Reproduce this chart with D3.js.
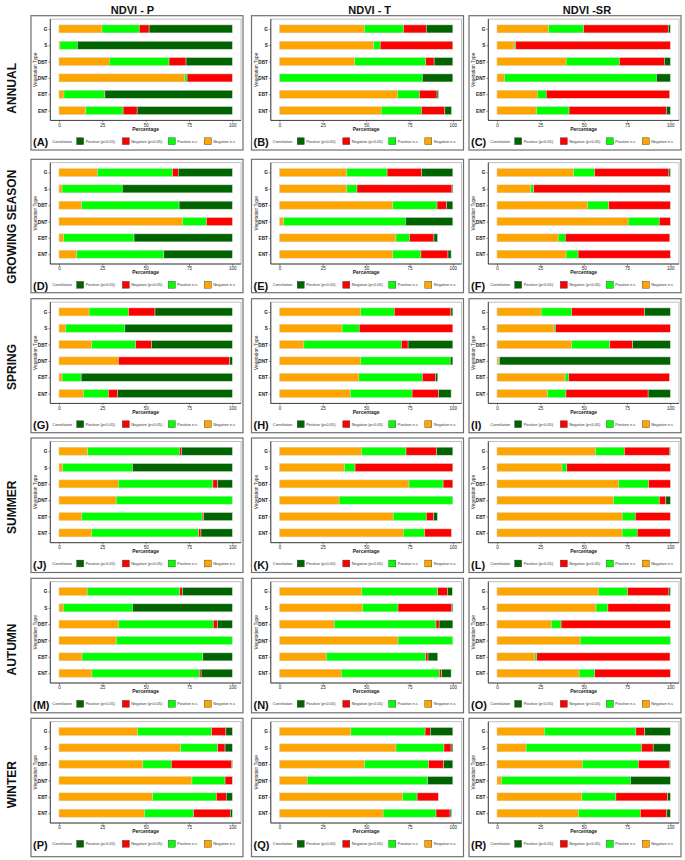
<!DOCTYPE html>
<html><head><meta charset="utf-8">
<script src="https://cdn.jsdelivr.net/npm/d3@7/dist/d3.min.js"></script>
<style>
body{margin:0;background:#fff}
svg{display:block;font-family:"Liberation Sans",Arial,sans-serif}
</style>
</head><body>
<svg id="chart" width="685" height="860"></svg>
<script>
// ---------- categories / labels ----------
const vegTypes = ["G", "S", "DBT", "DNT", "EBT", "ENT"];
const seasons = ["ANNUAL", "GROWING SEASON", "SPRING", "SUMMER", "AUTUMN", "WINTER"];
const indices = ["NDVI - P", "NDVI - T", "NDVI -SR"];
const panelLetters = ["A","B","C","D","E","F","G","H","I","J","K","L","M","N","O","P","Q","R"];
const xTicks = [0, 25, 50, 75, 100];
// stacking order (left to right)
const seriesKeys = ["negNS", "posNS", "negSig", "posSig"];
const seriesColors = {posSig: "#006400", negSig: "#ff0000", posNS: "#00ff00", negNS: "#ffa500"};
const legendKeys = ["posSig", "negSig", "posNS", "negNS"];
const legendLabels = ["Positive (p<0.05)", "Negative (p<0.05)", "Positive n.s", "Negative n.s"];

// ---------- values: rows = vegTypes, columns = [Negative n.s, Positive n.s, Negative p<0.05, Positive p<0.05] ----------
const annualP  = [[24.8,21.5,5.7,48.0],[0.6,10.0,0,89.4],[29.0,34.5,9.8,26.7],[72.5,1.4,26.1,0],[2.9,23.2,0.4,73.5],[15.5,21.5,8.1,54.9]];
const annualT  = [[49.0,22.6,13.1,15.3],[54.4,3.7,41.9,0],[43.4,41.0,4.8,10.8],[0,82.4,0,17.6],[68.1,12.6,10.2,0.8],[58.7,23.2,13.5,3.8]];
const annualSR = [[29.8,20.2,48.8,1.2],[9.9,0.8,89.3,0],[39.9,30.7,25.9,3.5],[4.3,87.7,0,8.0],[23.3,5.1,71.2,0],[22.8,18.8,56.1,2.3]];
const growP    = [[22.2,43.3,3.3,31.2],[1.8,34.7,0,63.5],[13.1,56.2,0,30.7],[71.3,13.8,14.9,0],[2.8,40.5,0,56.7],[10.3,50.2,0,39.5]];
const growT    = [[38.9,23.2,20.0,17.9],[38.9,5.8,54.8,0.5],[65.4,25.5,5.6,3.5],[2.5,70.2,0,27.3],[67.2,7.8,14.1,2.1],[65.4,16.2,15.6,1.8]];
const growSR   = [[44.2,12.1,42.9,0.8],[19.4,1.8,78.8,0],[52.4,12.1,35.5,0],[75.7,17.9,6.4,0],[35.3,4.1,60.3,0],[39.9,6.9,53.2,0]];
const springP  = [[17.4,22.7,15.3,44.6],[3.8,34.2,0,62.0],[18.9,25.4,9.1,46.6],[34.3,0,64.2,1.5],[1.8,11.0,0,87.2],[14.1,14.4,5.3,66.2]];
const springT  = [[46.8,19.4,32.7,1.1],[36.1,9.9,54.0,0],[14.1,56.2,3.9,25.8],[46.8,51.7,0,1.5],[45.8,36.6,7.6,1.3],[40.9,35.6,15.3,7.2]];
const springSR = [[25.5,17.6,42.1,14.8],[32.9,0.8,66.3,0],[43.1,22.0,13.2,21.7],[1.0,0.5,0,98.5],[39.3,2.0,58.2,0],[29.3,10.5,47.4,12.8]];
const summerP  = [[16.6,52.9,1.2,29.3],[2.2,40.2,0,57.6],[34.2,54.6,2.8,8.4],[33.0,67.0,0,0],[13.2,69.4,0.8,16.6],[18.9,61.7,1.3,18.1]];
const summerT  = [[47.2,25.8,17.6,9.4],[37.5,6.1,56.4,0],[74.7,19.7,5.6,0],[34.4,65.6,0,0],[65.6,19.1,4.3,2.1],[71.4,12.3,15.5,0]];
const summerSR = [[56.9,16.6,26.0,0.5],[37.5,2.8,59.7,0],[70.2,17.3,12.5,0],[67.3,26.3,3.8,2.6],[72.2,7.6,20.2,0],[72.2,8.7,19.1,0]];
const autumnP  = [[16.3,53.4,1.5,28.8],[2.5,39.9,0,57.6],[34.3,54.7,2.5,8.5],[33.1,66.9,0,0],[13.3,69.7,0,17.0],[19.0,62.0,1.0,18.0]];
const autumnT  = [[47.4,43.9,5.6,2.8],[48.0,20.4,30.8,0.8],[31.6,58.7,1.8,7.9],[68.4,31.6,0,0],[27.0,57.4,1.3,5.6],[35.7,56.6,1.3,5.4]];
const autumnSR = [[58.4,16.9,23.9,0.8],[57.1,6.9,36.0,0],[31.4,5.6,63.0,0],[48.0,52.0,0,0],[21.9,1.1,76.8,0],[47.4,9.0,43.6,0]];
const winterP  = [[45.4,42.7,8.2,3.7],[70.2,21.4,4.2,4.2],[48.4,16.4,34.7,0.5],[76.7,19.1,4.2,0],[54.1,36.7,5.7,3.5],[49.4,28.3,21.1,1.2]];
const winterT  = [[41.2,42.8,3.0,13.0],[67.2,27.7,4.1,1.0],[49.1,36.9,8.7,5.3],[16.0,69.5,0,14.5],[71.0,8.4,12.2,0],[59.8,30.5,8.1,0.8]];
const winterSR = [[27.3,52.8,5.1,14.8],[16.8,66.6,6.7,9.9],[49.2,32.4,17.9,0.5],[2.6,74.4,0,23.0],[49.0,19.6,29.9,1.5],[46.9,35.8,15.3,2.0]];

const panelData = [
  [annualP, annualT, annualSR],
  [growP, growT, growSR],
  [springP, springT, springSR],
  [summerP, summerT, summerSR],
  [autumnP, autumnT, autumnSR],
  [winterP, winterT, winterSR]
];

// ---------- layout ----------
const colLeft = [31, 251.5, 469];
const panelW = 212;
const rowTop = [15.7, 159.3, 298.7, 438, 578.3, 718.3];
const panelH = [134.3, 133.4, 134, 134.5, 134.5, 138.4];
const titleX = [132.5, 369.7, 587];
const rowLabelY = [88.3, 226.7, 367, 507.3, 649.5, 784.7];
const frame = {l: 19.3, r: 210, t: 3.4, b: 104.7};
const legendKeyX = [45.7, 91.3, 137.3, 173.3];

const svg = d3.select("#chart");

// column titles
indices.forEach((t, i) => {
  svg.append("text").attr("x", titleX[i]).attr("y", 14)
    .attr("text-anchor", "middle").attr("font-size", 11).attr("font-weight", "bold")
    .attr("fill", "#111").text(t);
});
// row labels
seasons.forEach((s, i) => {
  svg.append("text").attr("transform", `translate(16,${rowLabelY[i]}) rotate(-90)`)
    .attr("text-anchor", "middle").attr("font-size", 12).attr("font-weight", "bold")
    .attr("fill", "#111").text(s);
});

const stack = d3.stack().keys(seriesKeys);

panelData.forEach((row, r) => {
  row.forEach((vals, c) => {
    const px = colLeft[c], py = rowTop[r];
    const g = svg.append("g").attr("transform", `translate(${px},${py})`);
    // outer border
    g.append("rect").attr("x", 0).attr("y", 0).attr("width", panelW).attr("height", panelH[r])
      .attr("fill", "none").attr("stroke", "#707070").attr("stroke-width", 1.2);

    const x = d3.scaleLinear().domain([-5, 105]).range([frame.l, frame.r]);
    const y = d3.scalePoint().domain(vegTypes).range([frame.t, frame.b]).padding(0.6);

    // plot frame
    g.append("rect").attr("x", frame.l).attr("y", frame.t)
      .attr("width", frame.r - frame.l).attr("height", frame.b - frame.t)
      .attr("fill", "#fff").attr("stroke", "#b0b0b0").attr("stroke-width", 0.8);

    const rows = vals.map((v, i) => ({veg: vegTypes[i], negNS: v[0], posNS: v[1], negSig: v[2], posSig: v[3]}));
    const series = stack(rows);
    const barH = 8;
    g.append("g").selectAll("g").data(series).join("g")
      .attr("fill", d => seriesColors[d.key])
      .selectAll("rect").data(d => d.filter(p => p[1] - p[0] > 0)).join("rect")
      .attr("x", d => x(d[0]))
      .attr("width", d => x(d[1]) - x(d[0]))
      .attr("y", d => y(d.data.veg) - barH / 2)
      .attr("height", barH)
      .attr("stroke", "#d4d4d4").attr("stroke-width", 0.5);

    // axes
    const xa = g.append("g").attr("transform", `translate(0,${frame.b})`)
      .call(d3.axisBottom(x).tickValues(xTicks).tickSize(2).tickPadding(1));
    xa.select(".domain").attr("d", `M${frame.l},0H${frame.r}`).attr("stroke", "#222").attr("stroke-width", 0.8);
    xa.selectAll(".tick line").attr("stroke", "#333").attr("stroke-width", 0.5);
    xa.selectAll(".tick text").attr("font-size", 4.5).attr("fill", "#222").attr("font-family", null);

    const ya = g.append("g").attr("transform", `translate(${frame.l},0)`)
      .call(d3.axisLeft(y).tickSize(2).tickPadding(1));
    ya.select(".domain").attr("d", `M0,${frame.t}V${frame.b}`).attr("stroke", "#222").attr("stroke-width", 0.8);
    ya.selectAll(".tick line").attr("stroke", "#333").attr("stroke-width", 0.5);
    ya.selectAll(".tick text").attr("font-size", 4.6).attr("font-weight", "bold").attr("fill", "#222").attr("font-family", null);

    // axis titles
    g.append("text").attr("x", (frame.l + frame.r) / 2).attr("y", frame.b + 10.5)
      .attr("text-anchor", "middle").attr("font-size", 5).attr("font-weight", "bold").attr("fill", "#222")
      .text("Percentage");
    g.append("text").attr("transform", `translate(6,${(frame.t + frame.b) / 2}) rotate(-90)`)
      .attr("text-anchor", "middle").attr("font-size", 4.8).attr("fill", "#333")
      .text("Vegetation Type");

    // panel letter
    g.append("text").attr("x", 2).attr("y", 130.5).attr("font-size", 11).attr("font-weight", "bold")
      .attr("fill", "#111").text(`(${panelLetters[r * 3 + c]})`);

    // legend
    const ly = 125.5;
    g.append("text").attr("x", 21.3).attr("y", ly).attr("dy", "0.35em")
      .attr("font-size", 4).attr("fill", "#333").text("Correlation");
    legendKeys.forEach((k, i) => {
      g.append("rect").attr("x", legendKeyX[i]).attr("y", ly - 3.4).attr("width", 7).attr("height", 6.8)
        .attr("fill", seriesColors[k]).attr("stroke", "#333").attr("stroke-width", 0.4);
      g.append("text").attr("x", legendKeyX[i] + 9).attr("y", ly).attr("dy", "0.35em")
        .attr("font-size", 3.9).attr("fill", "#333").text(legendLabels[i]);
    });
  });
});
</script>
</body></html>
